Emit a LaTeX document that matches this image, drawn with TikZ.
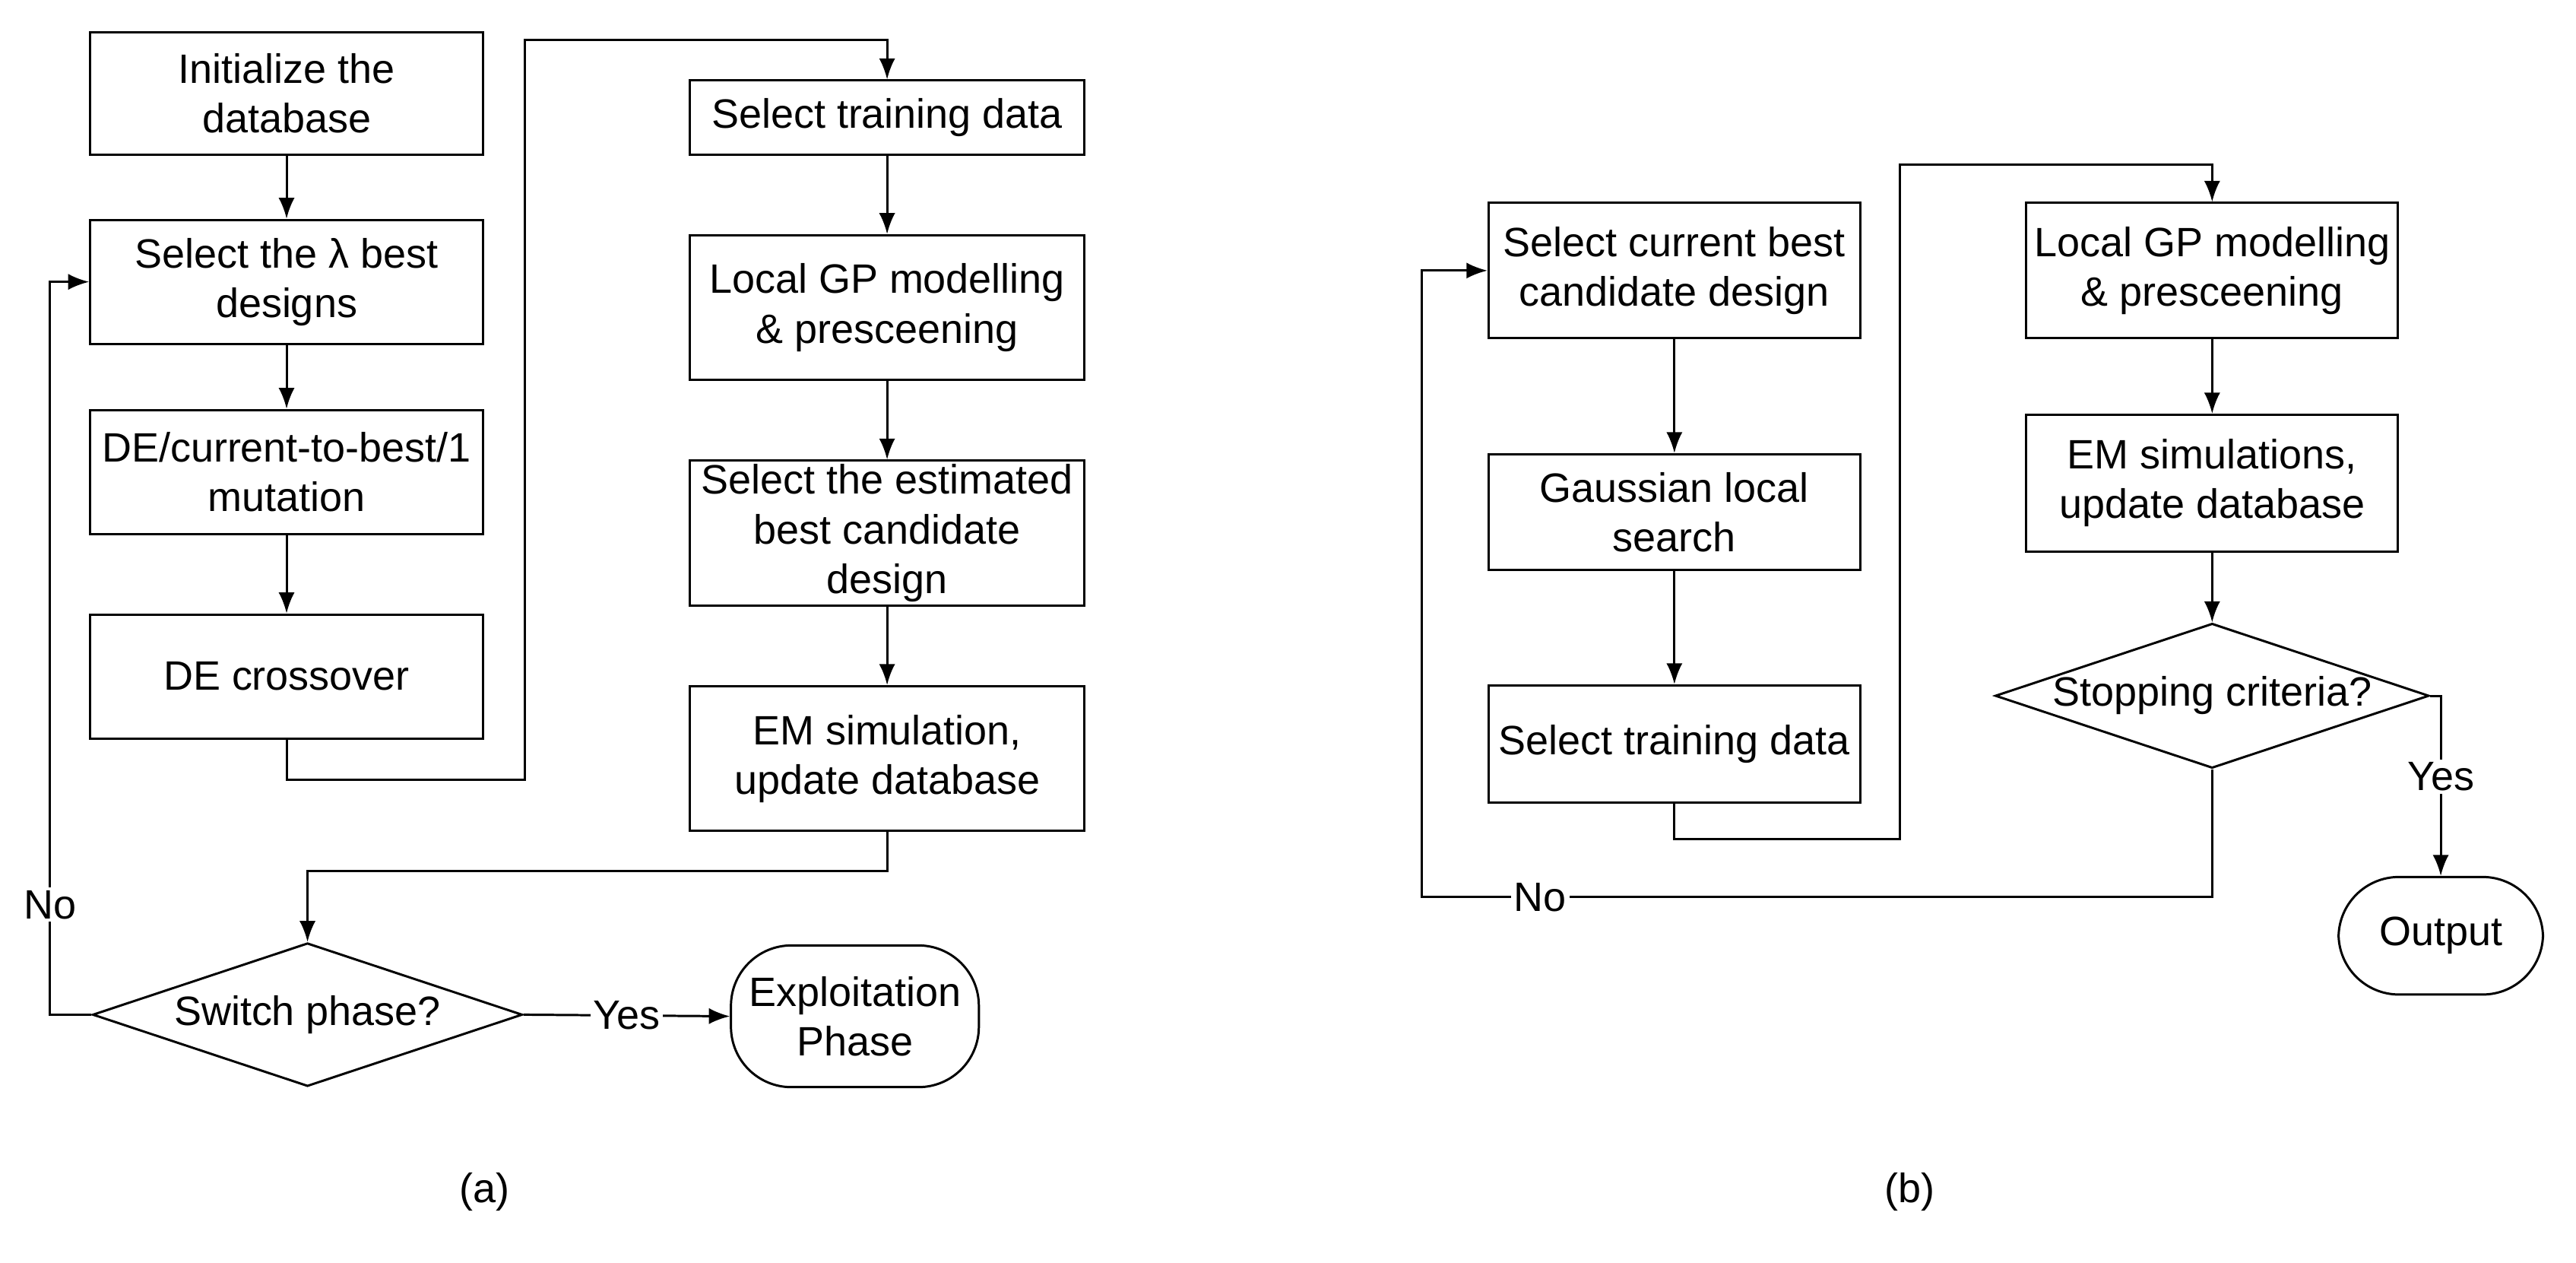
\documentclass[tikz,border=0pt]{standalone}
\usepackage{fontspec}
\setmainfont{Liberation Sans}
\usetikzlibrary{shapes.geometric,arrows.meta}

\tikzset{
	block/.style={shape=rectangle,draw=black,thick,align=center,inner sep=1pt},
	decision/.style={shape=diamond,draw=black,thick,aspect=3,inner sep=0pt,align=center},
	terminal/.style={shape=rectangle,rounded corners=0.75cm,draw=black,thick,align=center,inner sep=1pt},
	flow/.style={-{Latex[length=2.6mm,width=2mm]},thick},
}

\begin{document}
\begin{tikzpicture}[x=0.02cm,y=-0.02cm,font=\fontsize{14.5}{17.5}\selectfont]
	\useasboundingbox (0,0) rectangle (1600,784);

	% (a)
	\node[block,minimum width=4.88cm,minimum height=1.52cm] (init) at (178,58)   {Initialize the\\database};
	\node[block,minimum width=4.88cm,minimum height=1.54cm] (sel) at (178,175)   {Select the λ best\\designs};
	\node[block,minimum width=4.88cm,minimum height=1.54cm] (mut) at (178,293)   {DE/current-to-best/1\\mutation};
	\node[block,minimum width=4.88cm,minimum height=1.54cm] (cro) at (178,420)   {DE crossover};
	\node[block,minimum width=4.9cm,minimum height=0.92cm] (tra) at (551,73)     {Select training data};
	\node[block,minimum width=4.9cm,minimum height=1.8cm] (gpa) at (551,191)     {Local GP modelling\\\& presceening};
	\node[block,minimum width=4.9cm,minimum height=1.8cm] (est) at (551,331)     {Select the estimated\\best candidate\\design};
	\node[block,minimum width=4.9cm,minimum height=1.8cm] (ema) at (551,471)     {EM simulation,\\update database};
	\node[decision,minimum width=5.34cm,minimum height=1.78cm] (swi) at (191,630) {Switch phase?};
	\node[terminal,minimum width=3.08cm,minimum height=1.76cm] (exp) at (531,631) {Exploitation\\Phase};
	\coordinate (noa) at (31,630);

	\path[flow] (init) edge (sel);
	\path[flow] (sel) edge (mut);
	\path[flow] (mut) edge (cro);
	\draw[flow] (cro.south) -- (178,484) -- (326,484) -- (326,25) -- (551,25) -- (tra.north);
	\path[flow] (tra) edge (gpa);
	\path[flow] (gpa) edge (est);
	\path[flow] (est) edge (ema);
	\draw[flow] (ema.south) -- (551,541) -- (191,541) -- (swi.north);
	\draw[flow] (swi.east) -- node[fill=white,inner sep=1pt]{Yes} (exp.west);
	\draw[flow] (swi.west) -- (noa) -- node[fill=white,inner sep=1pt,pos=0.15]{No} (31,175) -- (sel.west);

	% (b)
	\node[block,minimum width=4.62cm,minimum height=1.68cm] (cur) at (1040,168)  {Select current best\\candidate design};
	\node[block,minimum width=4.62cm,minimum height=1.44cm] (gau) at (1040,318)  {Gaussian local\\search};
	\node[block,minimum width=4.62cm,minimum height=1.46cm] (trb) at (1040,462)  {Select training data};
	\node[block,minimum width=4.62cm,minimum height=1.68cm] (gpb) at (1374,168)  {Local GP modelling\\\& presceening};
	\node[block,minimum width=4.62cm,minimum height=1.7cm] (emb) at (1374,300)   {EM simulations,\\update database};
	\node[decision,minimum width=5.08cm,minimum height=1.64cm] (sto) at (1374,432) {Stopping criteria?};
	\node[terminal,minimum width=2.54cm,minimum height=1.46cm] (out) at (1516,581) {Output};

	\path[flow] (cur) edge (gau);
	\path[flow] (gau) edge (trb);
	\draw[flow] (trb.south) -- (1040,521) -- (1180,521) -- (1180,102) -- (1374,102) -- (gpb.north);
	\path[flow] (gpb) edge (emb);
	\path[flow] (emb) edge (sto);
	\draw[flow] (sto.east) -- (1516,432) -- node[fill=white,inner sep=1pt,pos=0.45]{Yes} (out.north);
	\draw[flow] (sto.south) -- (1374,557) -- node[fill=white,inner sep=1pt,pos=0.85]{No} (883,557) -- (883,168) -- (cur.west);

	\node (capa) at (301,740) {(a)};
	\node (capb) at (1186,740) {(b)};
\end{tikzpicture}
\end{document}
